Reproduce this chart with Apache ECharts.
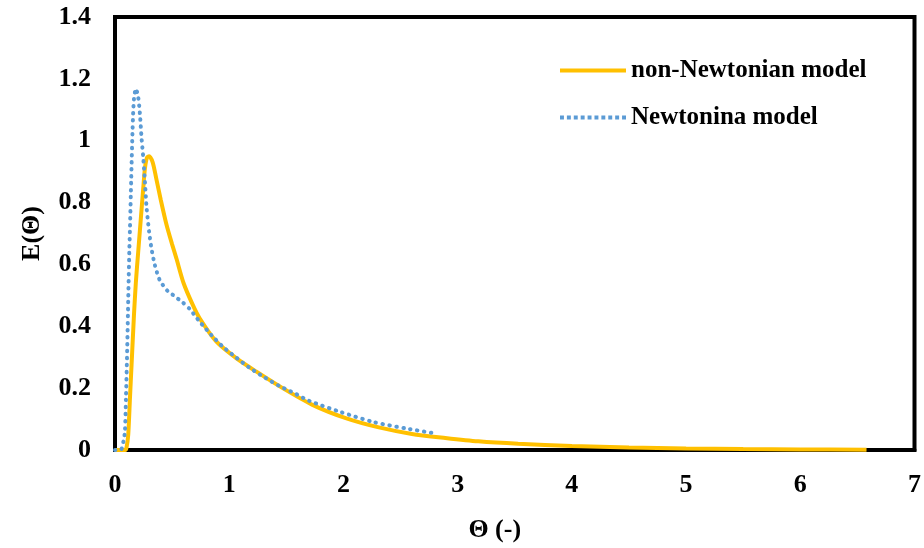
<!DOCTYPE html>
<html>
<head>
<meta charset="utf-8">
<script src="https://cdn.jsdelivr.net/npm/echarts@6/dist/echarts.min.js"></script>
<style>html,body{margin:0;padding:0;background:#fff}#c{width:924px;height:548px}</style>
</head>
<body>
<div id="c"></div>
<script>
var seriesNames = ['non-Newtonian model', 'Newtonina model'];
var xTicks = [0, 1, 2, 3, 4, 5, 6, 7];
var yTicks = [0, 0.2, 0.4, 0.6, 0.8, 1, 1.2, 1.4];

var nonNewtonX = [0, 0.09, 0.1, 0.116, 0.131, 0.145, 0.166, 0.183, 0.203, 0.224, 0.247, 0.262, 0.28, 0.299, 0.33, 0.36, 0.40, 0.45, 0.50, 0.538, 0.60, 0.68, 0.741, 0.886, 1.061, 1.235, 1.468, 1.729, 2.02, 2.31, 2.6, 2.892, 3.18, 3.53, 4.0, 4.5, 5.0, 5.5, 6.0, 6.58];
var nonNewtonY = [0, 0, 0.006, 0.05, 0.168, 0.275, 0.436, 0.544, 0.64, 0.738, 0.845, 0.91, 0.945, 0.95, 0.93, 0.88, 0.81, 0.73, 0.665, 0.619, 0.54, 0.47, 0.426, 0.351, 0.297, 0.254, 0.2, 0.146, 0.103, 0.073, 0.052, 0.039, 0.028, 0.02, 0.013, 0.008, 0.005, 0.003, 0.002, 0.001];

var newtonX = [0, 0.05, 0.06, 0.075, 0.087, 0.096, 0.107, 0.116, 0.125, 0.131, 0.142, 0.154, 0.166, 0.183, 0.203, 0.218, 0.233, 0.247, 0.262, 0.276, 0.299, 0.319, 0.349, 0.392, 0.465, 0.508, 0.596, 0.654, 0.741, 0.843, 0.944, 1.061, 1.177, 1.308, 1.439, 1.569, 1.7, 1.982, 2.267, 2.557, 2.78];
var newtonY = [0, 0, 0.006, 0.03, 0.06, 0.168, 0.329, 0.49, 0.64, 0.716, 0.877, 1.039, 1.135, 1.168, 1.141, 1.087, 1.006, 0.947, 0.867, 0.786, 0.705, 0.652, 0.598, 0.549, 0.512, 0.501, 0.476, 0.456, 0.415, 0.372, 0.334, 0.299, 0.266, 0.235, 0.207, 0.184, 0.159, 0.122, 0.09, 0.069, 0.055];

function pairs(xs, ys) { return xs.map(function (x, i) { return [x, ys[i]]; }); }

var dotIcon = 'path://';
for (var k = 0; k < 10; k++) { dotIcon += 'M' + (k * 7) + ',0h4v4h-4z'; }
var solidIcon = 'path://M0,0H66V4H0Z';

var font = '"Liberation Serif", "Times New Roman", serif';
var chart = echarts.init(document.getElementById('c'));
chart.setOption({
  backgroundColor: '#fff',
  animation: false,
  grid: { left: 115, right: 6, top: 17, bottom: 96, show: true, borderColor: '#000', borderWidth: 4 },
  legend: {
    left: 555, top: 53, orient: 'vertical', itemWidth: 66, itemHeight: 4, itemGap: 22,
    textStyle: { fontFamily: font, fontWeight: 'bold', fontSize: 25, color: '#000' },
    data: [
      { name: seriesNames[0], icon: solidIcon },
      { name: seriesNames[1], icon: dotIcon }
    ]
  },
  xAxis: {
    type: 'value', min: xTicks[0], max: xTicks[xTicks.length - 1], interval: 1,
    name: 'Θ (-)', nameLocation: 'middle', nameGap: 67,
    nameTextStyle: { fontFamily: font, fontWeight: 'bold', fontSize: 26, color: '#000', padding: [0, 40, 0, 0] },
    axisLine: { lineStyle: { color: '#000', width: 4 } },
    axisTick: { show: false },
    splitLine: { show: false },
    axisLabel: { margin: 22, fontFamily: font, fontWeight: 'bold', fontSize: 26, color: '#000' }
  },
  yAxis: {
    type: 'value', min: yTicks[0], max: yTicks[yTicks.length - 1], interval: 0.2,
    name: 'E(Θ)', nameLocation: 'middle', nameGap: 70,
    nameTextStyle: { fontFamily: font, fontWeight: 'bold', fontSize: 26, color: '#000' },
    axisLine: { lineStyle: { color: '#000', width: 4 } },
    axisTick: { show: false },
    splitLine: { show: false },
    axisLabel: { margin: 24, fontFamily: font, fontWeight: 'bold', fontSize: 26, color: '#000' }
  },
  series: [
    {
      name: seriesNames[0], type: 'line', smooth: 0.25, symbol: 'none',
      lineStyle: { color: '#FFC000', width: 4 }, itemStyle: { color: '#FFC000' },
      data: pairs(nonNewtonX, nonNewtonY), z: 2
    },
    {
      name: seriesNames[1], type: 'line', smooth: 0.25, symbol: 'none',
      lineStyle: { color: '#5B9BD5', width: 4, type: [0.5, 6.5], cap: 'round' }, itemStyle: { color: '#5B9BD5' },
      data: pairs(newtonX, newtonY), z: 3
    }
  ]
});
</script>
</body>
</html>
